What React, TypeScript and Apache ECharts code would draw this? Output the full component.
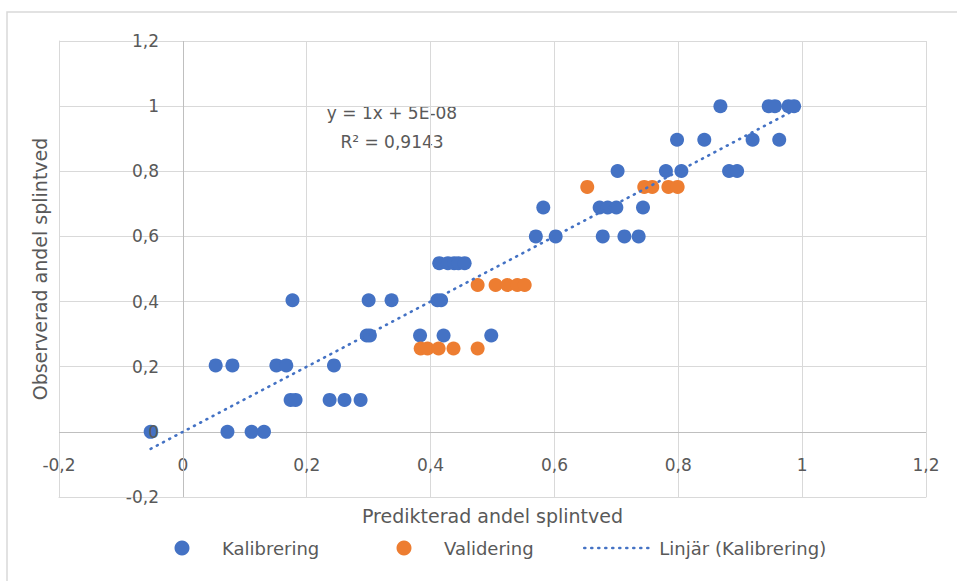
import React, { useEffect, useRef } from "react";
import * as echarts from "echarts";

// Kalibrering (calibration) points: predicted (x) vs observed (y)
const kalibreringX = [
  -0.052,
  0.072, 0.111, 0.131,
  0.174, 0.182, 0.237, 0.261, 0.287,
  0.053, 0.080, 0.151, 0.167, 0.244,
  0.297, 0.302, 0.383, 0.421, 0.498,
  0.177, 0.300, 0.337, 0.411, 0.417,
  0.414, 0.428, 0.438, 0.445, 0.455,
  0.570, 0.602, 0.678, 0.713, 0.736,
  0.582, 0.673, 0.686, 0.700, 0.743,
  0.702, 0.780, 0.805, 0.882, 0.895,
  0.798, 0.842, 0.920, 0.963,
  0.868, 0.946, 0.956, 0.978, 0.987,
];
const kalibreringY = [
  0,
  0, 0, 0,
  0.098, 0.098, 0.098, 0.098, 0.098,
  0.204, 0.204, 0.204, 0.204, 0.204,
  0.296, 0.296, 0.296, 0.296, 0.296,
  0.404, 0.404, 0.404, 0.404, 0.404,
  0.518, 0.518, 0.518, 0.518, 0.518,
  0.6, 0.6, 0.6, 0.6, 0.6,
  0.689, 0.689, 0.689, 0.689, 0.689,
  0.801, 0.801, 0.801, 0.801, 0.801,
  0.897, 0.897, 0.897, 0.897,
  1, 1, 1, 1, 1,
];

// Validering (validation) points
const valideringX = [
  0.384, 0.395, 0.413, 0.437, 0.476,
  0.476, 0.505, 0.524, 0.540, 0.552,
  0.653, 0.745, 0.758, 0.784, 0.799,
];
const valideringY = [
  0.256, 0.256, 0.256, 0.256, 0.256,
  0.451, 0.451, 0.451, 0.451, 0.451,
  0.752, 0.752, 0.752, 0.752, 0.752,
];

// Linear trendline (Kalibrering): y = 1x + 5E-08, drawn over the x range of the data
const trendX = [-0.052, 0.987];
const trendY = [-0.052, 0.987];

// Axes cross at zero
const zeroX = 0;
const zeroY = 0;

const equationText = "y = 1x + 5E-08";
const r2Text = "R² = 0,9143";

const seriesNames = ["Kalibrering", "Validering", "Linjär (Kalibrering)"];
const xAxisTitle = "Predikterad andel splintved";
const yAxisTitle = "Observerad andel splintved";

const FONT = "DejaVu Sans";
const TEXT = "#595959";
const BLUE = "#4472C4";
const ORANGE = "#ED7D31";
const GRID = "#D9D9D9";

const fmt = (v: number) => String(+v.toFixed(1)).replace(".", ",");

export default function App() {
  const ref = useRef<HTMLDivElement>(null);

  useEffect(() => {
    if (!ref.current) return;
    const chart = echarts.init(ref.current, null, { renderer: "svg" });
    const kal = kalibreringX.map((x, i) => [x, kalibreringY[i]]);
    const val = valideringX.map((x, i) => [x, valideringY[i]]);
    const trend = trendX.map((x, i) => [x, trendY[i]]);

    const legendBase = {
      orient: "horizontal" as const,
      top: 538,
      padding: 0,
      itemWidth: 70,
      itemHeight: 15,
      textStyle: { color: TEXT, fontFamily: FONT, fontSize: 18, lineHeight: 20 },
    };

    const yScale = { type: "value" as const, min: -0.2, max: 1.2, interval: 0.2 };

    chart.setOption({
      animation: false,
      backgroundColor: "#ffffff",
      grid: {
        left: 59,
        right: 31,
        top: 41,
        bottom: 84,
        containLabel: false,
        outerBoundsMode: "none",
      },
      xAxis: {
        type: "value",
        min: -0.2,
        max: 1.2,
        interval: 0.2,
        name: xAxisTitle,
        nameLocation: "middle",
        nameGap: 9,
        nameTextStyle: { color: TEXT, fontFamily: FONT, fontSize: 19, verticalAlign: "top" },
        axisLine: { show: true, onZero: false, lineStyle: { color: GRID, width: 1 } },
        axisTick: { show: false },
        axisLabel: {
          color: TEXT,
          fontFamily: FONT,
          fontSize: 17,
          lineHeight: 17,
          margin: -41,
          formatter: fmt,
        },
        splitLine: { show: true, lineStyle: { color: GRID, width: 1 } },
      },
      yAxis: [
        {
          ...yScale,
          position: "left",
          name: yAxisTitle,
          nameLocation: "middle",
          nameGap: 10,
          nameRotate: 90,
          nameTextStyle: { color: TEXT, fontFamily: FONT, fontSize: 19 },
          axisLine: { show: true, onZero: false, lineStyle: { color: GRID, width: 1 } },
          axisTick: { show: false },
          axisLabel: { show: false },
          splitLine: { show: true, lineStyle: { color: GRID, width: 1 } },
          z: 0,
        },
        {
          ...yScale,
          position: "left",
          offset: 0,
          axisLine: { show: false, onZero: false },
          axisTick: { show: false },
          splitLine: { show: false },
          axisLabel: {
            color: TEXT,
            fontFamily: FONT,
            fontSize: 17,
            margin: -100,
            formatter: fmt,
          },
          z: 10,
        },
      ],
      legend: [
        { ...legendBase, left: 174.5, data: [{ name: seriesNames[0], icon: "circle" }] },
        { ...legendBase, left: 396.5, data: [{ name: seriesNames[1], icon: "circle" }] },
        {
          ...legendBase,
          left: 583,
          data: [seriesNames[2]],
          itemStyle: { opacity: 0 },
          lineStyle: { width: 2.6, type: [1, 6], cap: "round", color: BLUE },
        },
      ],
      series: [
        {
          name: seriesNames[0],
          type: "scatter",
          yAxisIndex: 0,
          data: kal,
          symbol: "circle",
          symbolSize: 14,
          itemStyle: { color: BLUE, opacity: 1 },
          z: 2,
          markLine: {
            silent: true,
            symbol: "none",
            label: { show: false },
            lineStyle: { color: "#BFBFBF", width: 1, type: "solid" },
            emphasis: { disabled: true },
            data: [{ xAxis: zeroX }, { yAxis: zeroY }],
            z: 1,
          },
        },
        {
          name: seriesNames[1],
          type: "scatter",
          yAxisIndex: 0,
          data: val,
          symbol: "circle",
          symbolSize: 14,
          itemStyle: { color: ORANGE, opacity: 1 },
          z: 2,
        },
        {
          name: seriesNames[2],
          type: "line",
          yAxisIndex: 0,
          data: trend,
          symbol: "none",
          showSymbol: false,
          lineStyle: { color: BLUE, width: 2.6, type: [1, 6], cap: "round" },
          itemStyle: { color: BLUE },
          z: 3,
        },
      ],
      graphic: [
        {
          type: "rect",
          silent: true,
          shape: { x: 7, y: 12, width: 1000, height: 620 },
          style: { fill: "none", stroke: GRID, lineWidth: 1.5 },
        },
        {
          type: "text",
          x: 392,
          y: 113,
          style: {
            text: equationText,
            fill: TEXT,
            font: `17px "${FONT}"`,
            textAlign: "center",
            textVerticalAlign: "middle",
          },
        },
        {
          type: "text",
          x: 392,
          y: 142,
          style: {
            text: r2Text,
            fill: TEXT,
            font: `17px "${FONT}"`,
            textAlign: "center",
            textVerticalAlign: "middle",
          },
        },
      ],
    });
    return () => chart.dispose();
  }, []);

  return (
    <div
      ref={ref}
      style={{ position: "absolute", left: 0, top: 0, width: 957, height: 581, background: "#fff" }}
    />
  );
}
